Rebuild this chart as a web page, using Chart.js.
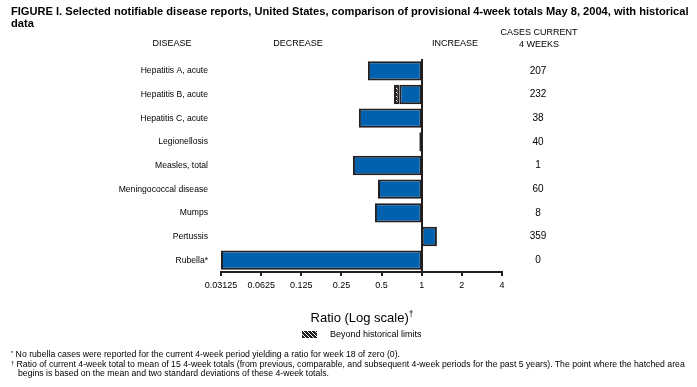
<!DOCTYPE html>
<html><head><meta charset="utf-8">
<script src="https://cdn.jsdelivr.net/npm/chart.js@4.4.1/dist/chart.umd.min.js"></script>
<style>
html,body{margin:0;padding:0;background:#fff;width:697px;height:387px;overflow:hidden;}
#wrap{position:absolute;left:0;top:0;width:697px;height:387px;}
.t{position:absolute;font-family:"Liberation Sans Narrow","Arial Narrow","Liberation Sans",Arial,sans-serif;color:#000;white-space:nowrap;}
.c{transform:translateX(-50%);text-align:center;}
sup{font-size:65%;vertical-align:top;position:relative;top:-1px;}
</style></head><body>
<div id="wrap"><canvas id="c" width="697" height="387"></canvas></div>
<div class="t" style="left:11px;top:5px;font-size:11.1px;font-weight:bold;line-height:12px;">FIGURE I. Selected notifiable disease reports, United States, comparison of provisional 4-week totals May 8, 2004, with historical<br>data</div>
<div class="t c" style="left:172px;top:38px;font-size:9px;">DISEASE</div>
<div class="t c" style="left:298px;top:38px;font-size:9px;">DECREASE</div>
<div class="t c" style="left:455px;top:38px;font-size:9px;">INCREASE</div>
<div class="t c" style="left:539px;top:26px;font-size:9px;line-height:12px;">CASES CURRENT<br>4 WEEKS</div>
<div class="t c" style="left:362px;top:310px;font-size:13px;font-family:'Liberation Sans',Arial,sans-serif;">Ratio (Log scale)<sup>†</sup></div>
<div class="t" style="left:11px;top:350px;font-size:8.7px;line-height:9.5px;">
<div><sup>*</sup> No rubella cases were reported for the current 4-week period yielding a ratio for week 18 of zero (0).</div>
<div><sup>†</sup> Ratio of current 4-week total to mean of 15 4-week totals (from previous, comparable, and subsequent 4-week periods for the past 5 years). The point where the hatched area</div>
<div style="padding-left:7px;">begins is based on the mean and two standard deviations of these 4-week totals.</div>
</div>
<script>
const categories = ['Hepatitis A, acute','Hepatitis B, acute','Hepatitis C, acute','Legionellosis','Measles, total','Meningococcal disease','Mumps','Pertussis','Rubella*'];
const ratios = [0.395, 0.62, 0.338, 0.96, 0.305, 0.47, 0.446, 1.30, 0.03125];
const limits = [null, 0.68, null, null, null, null, null, null, null];
const cases = [207, 232, 38, 40, 1, 60, 8, 359, 0];
const tickValues = [0.03125, 0.0625, 0.125, 0.25, 0.5, 1, 2, 4];
const tickLabels = ['0.03125', '0.0625', '0.125', '0.25', '0.5', '1', '2', '4'];

const FONT = '"Liberation Sans Narrow","Arial Narrow","Liberation Sans",Arial,sans-serif';
const BLUE = '#0061ae';
const DARK = '#231f20';

const blueData = ratios.map((r, i) => {
  const s = limits[i] != null ? limits[i] : r;
  return r < 1 ? [s, 1] : [1, r];
});
const hatchData = ratios.map((r, i) => limits[i] != null ? [r, limits[i]] : null);

const canvas = document.getElementById('c');
const ctx = canvas.getContext('2d');
function makeHatch() {
  const p = document.createElement('canvas');
  p.width = 4; p.height = 4;
  const g = p.getContext('2d');
  g.fillStyle = DARK; g.fillRect(0, 0, 4, 4);
  g.strokeStyle = '#fff'; g.lineWidth = 1;
  g.beginPath();
  g.moveTo(0, 0); g.lineTo(4, 4);
  g.moveTo(-1, 3); g.lineTo(1, 5);
  g.moveTo(3, -1); g.lineTo(5, 1);
  g.stroke();
  return ctx.createPattern(p, 'repeat');
}
const hatch = makeHatch();

const extras = {
  id: 'extras',
  afterDraw(chart) {
    const c = chart.ctx;
    const y = chart.scales.y;
    c.save();
    c.fillStyle = '#000';
    c.font = '10px ' + FONT;
    c.textAlign = 'center';
    c.textBaseline = 'middle';
    cases.forEach((v, i) => c.fillText(String(v), 538, y.getPixelForValue(i)));
    // legend
    c.fillStyle = hatch;
    c.fillRect(302, 331, 15, 7);
    c.fillStyle = '#000';
    c.font = '9px ' + FONT;
    c.textAlign = 'left';
    c.fillText('Beyond historical limits', 330, 335);
    c.restore();
  }
};

new Chart(ctx, {
  type: 'bar',
  data: {
    labels: categories,
    datasets: [
      { data: hatchData, backgroundColor: hatch, borderColor: DARK, borderWidth: 2, borderSkipped: false,
        grouped: false, categoryPercentage: 1, barPercentage: 0.82 },
      { data: blueData, backgroundColor: BLUE, borderColor: DARK, borderWidth: 2, borderSkipped: false,
        grouped: false, categoryPercentage: 1, barPercentage: 0.82 }
    ]
  },
  options: {
    responsive: false, animation: false, indexAxis: 'y',
    layout: { padding: { left: 0, right: 195, top: 59, bottom: 90 } },
    plugins: { legend: { display: false }, tooltip: { enabled: false } },
    scales: {
      x: {
        type: 'logarithmic', min: 0.03125, max: 4,
        afterBuildTicks: s => { s.ticks = tickValues.map(v => ({ value: v })); },
        afterFit: s => { s.height = 25; },
        ticks: { callback: (v, i) => tickLabels[i], font: { family: FONT, size: 9 }, color: '#000', padding: 4, maxRotation: 0, autoSkip: false },
        grid: { color: c => (c.tick && c.tick.value === 1) ? DARK : 'rgba(0,0,0,0)', lineWidth: 2, tickColor: DARK, tickLength: 4 },
        border: { display: true, color: DARK, width: 2 }
      },
      y: {
        afterFit: s => { s.width = 221; },
        grid: { display: false, drawTicks: false },
        border: { display: false },
        ticks: { font: { family: FONT, size: 8.6 }, color: '#000', padding: 13 }
      }
    }
  },
  plugins: [extras]
});
</script>
</body></html>
